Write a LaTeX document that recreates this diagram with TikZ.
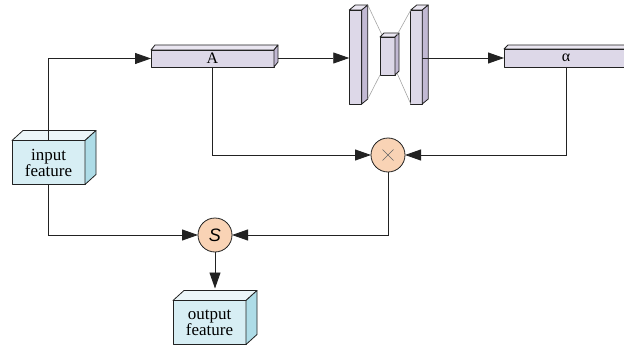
\documentclass[tikz,border=0pt]{standalone}
\usepackage{fontspec}
\setmainfont{Liberation Serif}
\newfontfamily\symfont{Liberation Sans}
\usetikzlibrary{arrows.meta,calc}

\definecolor{linecol}{HTML}{222222}
\definecolor{cubefront}{HTML}{D7EEF4}
\definecolor{cubetop}{HTML}{ECF6F9}
\definecolor{cubeside}{HTML}{AEDCE7}
\definecolor{slabfront}{HTML}{DDD8E8}
\definecolor{slabtop}{HTML}{EAE6F1}
\definecolor{slabside}{HTML}{C2B9D3}
\definecolor{opfill}{HTML}{F9D3B5}

% top and right faces of a box whose front face is node #1, receding by (#2,#3)
\newcommand\boxdepth[5]{%
  \draw[faceline,fill=#4] (#1.north west) -- ++(#2,#3) -- ($(#1.north east)+(#2,#3)$) -- (#1.north east) -- cycle;
  \draw[faceline,fill=#5] (#1.north east) -- ++(#2,#3) -- ($(#1.south east)+(#2,#3)$) -- (#1.south east) -- cycle;}

\begin{document}
\begin{tikzpicture}[x=1pt,y=-1pt,
  faceline/.style={draw=linecol,line width=0.8pt,line join=round},
  feat/.style={faceline,fill=cubefront,minimum width=73pt,minimum height=44pt,
    inner sep=0pt,outer sep=0pt,align=center,font=\fontsize{17}{17}\selectfont},
  bar/.style={faceline,fill=slabfront,inner sep=0pt,outer sep=0pt,
    minimum height=17pt,font=\fontsize{16}{16}\selectfont},
  slab/.style={faceline,fill=slabfront,inner sep=0pt,outer sep=0pt},
  op/.style={circle,faceline,fill=opfill,minimum size=34pt,inner sep=0pt,outer sep=0pt},
  conn/.style={draw=linecol,line width=0.9pt},
  arr/.style={conn,-{Triangle[length=16pt,width=11pt]}},
  funnel/.style={draw=gray!70,line width=0.6pt}]
\useasboundingbox (0,0) rectangle (624,345);
\begin{scope}
\clip (0,0) rectangle (624,345);

% feature cubes
\node[feat] (in) at (48.5,162.5) {input\\[-1pt]feature};
\boxdepth{in}{11}{-10}{cubetop}{cubeside}
\node[feat] (out) at (209.5,322.5) {output\\[-1pt]feature};
\boxdepth{out}{11}{-10}{cubetop}{cubeside}

% attention bars
\node[bar,minimum width=123pt] (A) at (212.5,58.5) {A};
\boxdepth{A}{4}{-5}{slabtop}{slabside}
\node[bar,minimum width=124pt,minimum height=18pt] (al) at (566,58) {\raisebox{1pt}{α}};
\boxdepth{al}{4}{-4}{slabtop}{slabside}

% encoder--decoder
\node[slab,minimum width=12.5pt,minimum height=94pt] (e1) at (355.5,57) {};
\boxdepth{e1}{6}{-5}{slabtop}{slabside}
\node[slab,minimum width=15pt,minimum height=38pt] (e2) at (387.5,56) {};
\boxdepth{e2}{4}{-4}{slabtop}{slabside}
\node[slab,minimum width=11.5pt,minimum height=94pt] (e3) at (416.5,57) {};
\boxdepth{e3}{6}{-5}{slabtop}{slabside}
\draw[funnel] ($(e1.north east)+(6,-5)$) -- ($(e2.north west)+(2,-2)$);
\draw[funnel] ($(e1.south east)+(6,-5)$) -- (e2.south west);
\draw[funnel] ($(e2.north east)+(2,-2)$) -- (e3.north west);
\draw[funnel] ($(e2.south east)+(2,-2)$) -- (e3.south west);

% operators
\node[op] (mul) at (388,155) {};
\draw[draw=gray!80!black,line width=0.6pt] ($(mul.center)+(-5.5,-5.5)$) -- ($(mul.center)+(5.5,5.5)$)
  ($(mul.center)+(-5.5,5.5)$) -- ($(mul.center)+(5.5,-5.5)$);
\node[op] (sum) at (215,235) {\symfont\itshape\fontsize{18}{18}\selectfont S};

% connectors
\coordinate (aout) at ($(A.east)+(4,-0.5)$);
\coordinate (outtop) at ($(out.north)+(5.5,-12)$);
\draw[arr] (in.north) |- (A.west);
\draw[arr] (aout) -- (e1.west |- aout);
\draw[arr] (e3.east |- al.west) -- (al.west);
\draw[arr] (A.south) |- (mul.west);
\draw[arr] (al.south) |- (mul.east);
\draw[arr] (mul.south) |- (sum.east);
\draw[arr] (in.south) |- (sum.west);
\draw[arr] (sum.south) -- (outtop);
\end{scope}
\end{tikzpicture}
\end{document}
